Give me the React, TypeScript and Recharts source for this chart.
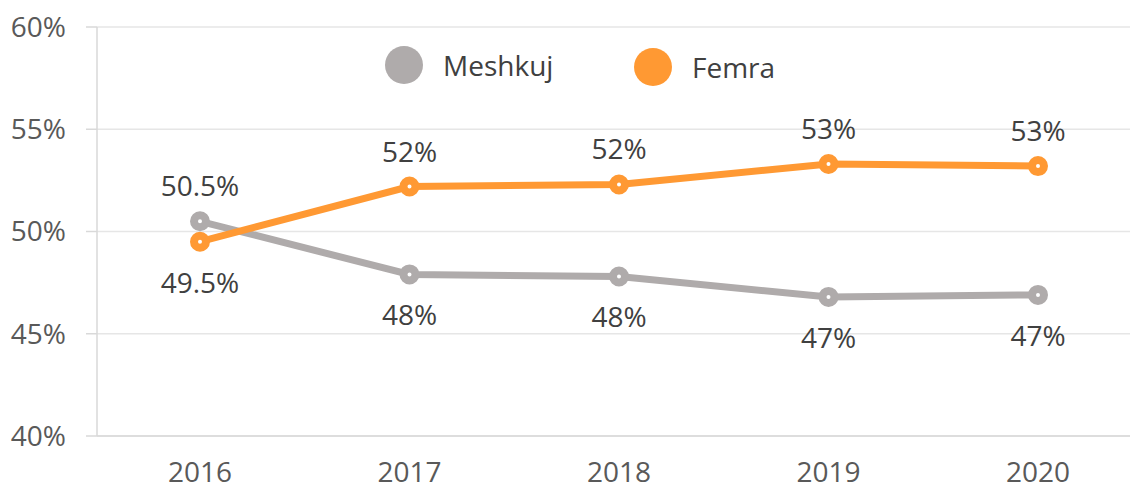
import { LineChart, Line, XAxis, YAxis, CartesianGrid } from 'recharts'

// Vitet
const vitet = ['2016', '2017', '2018', '2019', '2020']
// Meshkuj / Femra (%)
const meshkuj = [50.5, 47.9, 47.8, 46.8, 46.9]
const femra = [49.5, 52.2, 52.3, 53.3, 53.2]
// Etiketat e vlerave
const etiketaMeshkuj = ['50.5%', '48%', '48%', '47%', '47%']
const etiketaFemra = ['49.5%', '52%', '52%', '53%', '53%']
const yTicks = [40, 45, 50, 55, 60]

const ngjyraMeshkuj = '#AFABAB'
const ngjyraFemra = '#FF9933'
const fonti = '"Open Sans", sans-serif'
const madhesia = 28

const donnees = vitet.map((v, i) => ({ viti: v, meshkuj: meshkuj[i], femra: femra[i] }))

// Etiketa mbi ose nen pike, sipas cila seri eshte me lart
const etiketa = (teksti: string[], siper: boolean[]) => (props: any) => {
  const { x, y, index } = props
  const lart = siper[index]
  return (
    <text
      x={x}
      y={lart ? y - 36 : y + 40}
      textAnchor="middle"
      dominantBaseline="central"
      fill="#404040"
      fontSize={madhesia}
      fontFamily={fonti}
    >
      {teksti[index]}
    </text>
  )
}

const siperMeshkuj = meshkuj.map((m, i) => m > femra[i])
const siperFemra = femra.map((f, i) => f > meshkuj[i])

const Legjenda = () => (
  <svg width={420} height={50} style={{ position: 'absolute', left: 380, top: 41 }}>
    <circle cx={24} cy={24} r={19} fill={ngjyraMeshkuj} />
    <text x={63} y={24} dominantBaseline="central" fontSize={madhesia} fill="#404040" fontFamily={fonti}>
      Meshkuj
    </text>
    <circle cx={273} cy={26} r={19} fill={ngjyraFemra} />
    <text x={312} y={26} dominantBaseline="central" fontSize={madhesia} fill="#404040" fontFamily={fonti}>
      Femra
    </text>
  </svg>
)

export default function App() {
  return (
    <div style={{ position: 'absolute', left: 0, top: 0, width: 1130, height: 489, background: '#fff' }}>
      <LineChart width={1130} height={489} data={donnees} margin={{ top: 27, right: 0, left: 0, bottom: 0 }}>
        <CartesianGrid vertical={false} stroke="#E6E6E6" strokeWidth={1.5} />
        <XAxis
          dataKey="viti"
          padding={{ left: 103, right: 92 }}
          axisLine={{ stroke: '#D9D9D9', strokeWidth: 1.5 }}
          tickLine={false}
          height={53}
          tickMargin={20}
          tick={{ fill: '#595959', fontSize: madhesia, fontFamily: fonti }}
        />
        <YAxis
          domain={[40, 60]}
          ticks={yTicks}
          width={97}
          tickFormatter={(v) => `${v}%`}
          axisLine={{ stroke: '#D9D9D9', strokeWidth: 1.5 }}
          tickLine={{ stroke: '#D9D9D9', strokeWidth: 1.5 }}
          tickSize={11}
          tickMargin={20}
          tick={{ fill: '#595959', fontSize: madhesia, fontFamily: fonti }}
        />
        <Line
          type="linear"
          dataKey="meshkuj"
          name="Meshkuj"
          stroke={ngjyraMeshkuj}
          strokeWidth={7}
          dot={{ r: 6, fill: '#fff', stroke: ngjyraMeshkuj, strokeWidth: 8 }}
          label={etiketa(etiketaMeshkuj, siperMeshkuj)}
          isAnimationActive={false}
        />
        <Line
          type="linear"
          dataKey="femra"
          name="Femra"
          stroke={ngjyraFemra}
          strokeWidth={7}
          dot={{ r: 6, fill: '#fff', stroke: ngjyraFemra, strokeWidth: 8 }}
          label={etiketa(etiketaFemra, siperFemra)}
          isAnimationActive={false}
        />
      </LineChart>
      <Legjenda />
    </div>
  )
}
